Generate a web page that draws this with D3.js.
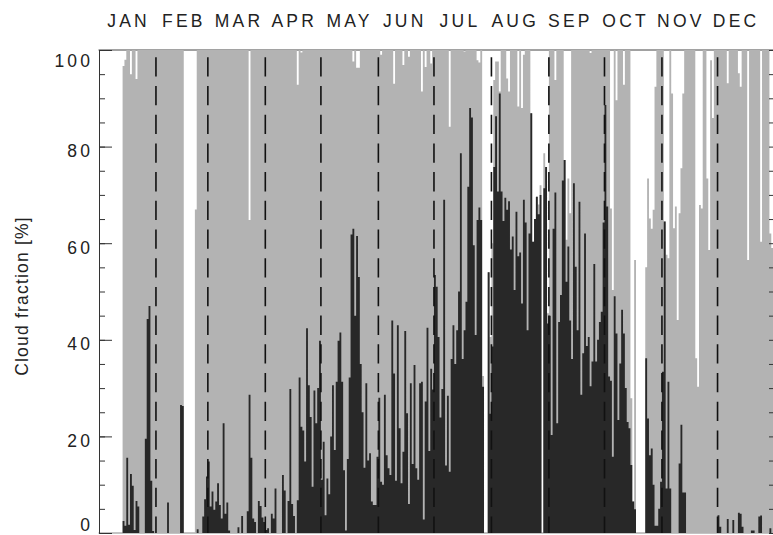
<!DOCTYPE html>
<html>
<head>
<meta charset="utf-8">
<script src="https://cdn.jsdelivr.net/npm/d3@7"></script>
<style>
  html, body { margin: 0; padding: 0; background: #fff; }
  svg { display: block; }
  text { font-family: "Liberation Sans", Arial, Helvetica, sans-serif; fill: #222; }
</style>
</head>
<body>
<svg id="chart" width="773" height="535"></svg>
<script>
// Month names shown along the top, and the month lengths used for the dashed separators
const monthNames = ["JAN", "FEB", "MAR", "APR", "MAY", "JUN", "JUL", "AUG", "SEP", "OCT", "NOV", "DEC"];
const monthDays = [31, 28, 31, 30, 31, 30, 31, 31, 30, 31, 30, 31];
const yTickValues = [0, 20, 40, 60, 80, 100];
const yTickLabels = ["0", "20", "40", "60", "80", "100"];

// Daily total cloud fraction [%] (null = no observation)
const totalCloud = [
  // JAN
  null,null,null,null,null,null,null,null,null,null,null,null,null,96.7,98,100,100,95,100,100,94,100,100,100,100,100,100,100,100,100,100,
  // FEB
  100,100,100,100,100,100,100,100,100,100,100,100,100,100,100,null,null,null,null,null,null,67,100,100,100,100,100,100,
  // MAR
  100,100,100,100,100,100,100,100,100,100,100,100,100,100,100,100,100,100,100,100,100,100,64.8,100,100,100,100,100,100,100,100,
  // APR
  100,100,100,100,100,100,100,100,100,100,100,100,100,100,100,100,100,92.8,100,99.5,100,100,100,100,100,100,100,100,100,100,
  // MAY
  100,100,100,100,100,100,100,100,100,100,100,100,100,100,100,100,100,97.6,100,96.3,96.3,100,100,100,100,100,100,100,100,100,100,
  // JUN
  100,99,100,100,100,100,100,100,93,100,100,100,100,96.9,100,100,98.6,100,100,100,100,100,100,91.4,100,96.5,100,100,97.2,100,
  // JUL
  100,100,100,100,100,100,100,100,84.1,100,100,100,100,100,100,100,99.7,100,100,100,100,100,100,97.9,97.4,100,32.5,null,null,54,40.6,
  // AUG
  60,93.8,97.6,97.6,91.4,100,100,100,94.1,91.4,100,100,100,100,88.3,100,88,99,100,100,100,86.9,60.3,65,69.6,68,72,null,78.6,75.8,45.5,
  // SEP
  100,100,100,93.8,100,100,100,100,77.2,60.7,73.4,66.2,100,100,100,100,100,100,100,100,100,100,99.4,100,100,100,100,100,100,100,
  // OCT
  100,100,100,67.2,50.3,100,89.6,100,100,100,92.8,100,100,100,27.9,6.5,56.5,null,null,null,null,null,55,73.4,65.1,63,66.9,92.4,100,100,100,
  // NOV
  100,64.5,57.6,56.9,100,91,63.1,67.6,44.1,66.2,75.5,91,100,100,100,100,100,100,36.2,30.3,67.9,67.2,100,100,73.4,58.6,97.9,85.9,100,100,
  // DEC
  100,100,100,100,100,93.1,100,100,100,100,100,95.2,92.4,100,100,100,56.5,100,100,100,100,100,100,60.3,100,100,100,100,62,59,59
];

// Daily optically thick cloud fraction [%] (null = no observation)
const thickCloud = [
  // JAN
  null,null,null,null,null,null,null,null,null,null,null,null,null,2.5,1.5,15.6,1.7,12.2,9.8,0.6,6.6,5.5,0,0,0,19.5,44.3,47,10.8,0.4,0,
  // FEB
  0,0,0,0,0,0,6.3,0,0,0,0,0,0,26.5,26.3,null,null,null,null,null,null,0,0.8,0,0,3.4,7,11.7,
  // MAR
  14.8,5.5,8.6,4.8,6.5,10.3,5.8,3,22.7,4,6.3,0.5,0,0,0,0,1.2,0,3.5,0,0,4.5,28.6,15.6,3,2.3,0,6.6,5.6,3.2,2.3,
  // APR
  0.6,1,0,4,3,9.2,0,0,0,12,8.8,0,6.6,29.8,6,3.5,0,6.8,32.2,22,21.2,14.8,42.4,30.6,24,9.6,29.5,22.7,30,39.8,
  // MAY
  11,18.9,3.7,11.3,8,20,30.6,17.2,31.3,39.8,41.5,31.3,13,0.5,15.3,32.2,61.8,63,45,61.5,53,35,25,13.5,31,15,16.5,6.5,5.8,5.8,15.8,
  // JUN
  28,10.6,10,28.6,16.1,13.4,12,44,33,10.8,43,21.7,10.3,16.8,41.8,24.8,6,31,14.3,34.8,13.4,11,31,31.3,2.8,27.2,42.5,17,34,29.7,
  // JUL
  53.4,51,40.6,23.9,29.8,69,14,28.4,12.7,36,43,35,42,50,78.6,36,42,47.9,71.7,88,86,59.6,41,64.8,67.4,64.8,30.3,null,null,54,24.7,
  // AUG
  38.6,75.8,86.3,70.7,91,70.7,64.6,69.4,66.9,68.7,58.7,61.4,50.3,66.5,57.3,58.1,47.5,69,64.3,42,62,86.9,60.3,65,69.6,66,70,null,71.4,75.8,43.4,
  // SEP
  45,20.3,63,70.5,22.7,43.7,49.3,73,77.2,52,59.3,44,36,72.4,55.1,42,68.6,28.6,37.2,62,38.7,40.6,30.4,35.5,55.7,35.5,40,43.7,45.8,64.3,
  // OCT
  88.6,67.6,32.4,31.5,15.8,49,41.3,23.4,35.1,46.2,41.3,30,23,21.7,14.1,6.5,4.9,null,null,null,null,null,36.2,23.7,16.1,17.5,10,1.5,1.5,5,10.6,
  // NOV
  33.4,64.5,9.2,31.3,9.2,0,0,0,0,14.4,22.4,8.4,8.4,0,0,0,0,0,0,0,0,0,0,0,0,0,0,0,0,0,
  // DEC
  3.7,1.3,0,0,0,2.9,0,0,2.7,0,0,4.2,4,1.3,0,0,0,0,0.5,0.5,0,0,3.4,3.6,0,0,0,0,1,0,0
];

const svg = d3.select("#chart");

const nDays = d3.sum(monthDays);
const x = d3.scaleLinear().domain([0, nDays]).range([98.5, 775]);
const y = d3.scaleLinear().domain([0, 100]).range([533, 50]);

// Plot frame (drawn first so the bars sit on top of it)
const frame = svg.append("g").attr("fill", "none").attr("stroke-width", 1);
frame.append("line").attr("x1", x(0)).attr("x2", x(nDays)).attr("y1", y(100)).attr("y2", y(100)).attr("stroke", "#444");
frame.append("line").attr("x1", x(0)).attr("x2", x(nDays)).attr("y1", y(0)).attr("y2", y(0)).attr("stroke", "#888");

// Each day is a flat step from day i to day i+1; runs of days form one seamless shape
function stepPoints(values) {
  const pts = [];
  values.forEach((v, i) => {
    pts.push({ t: i, v: v });
    pts.push({ t: i + 1, v: v });
  });
  return pts;
}
const barArea = d3.area()
  .defined(d => d.v != null)
  .x(d => x(d.t))
  .y0(y(0))
  .y1(d => y(d.v));

svg.append("path")
  .datum(stepPoints(totalCloud))
  .attr("d", barArea)
  .attr("fill", "#b3b3b3");

svg.append("path")
  .datum(stepPoints(thickCloud))
  .attr("d", barArea)
  .attr("fill", "#282828");

// Dashed month separators
const monthStarts = d3.cumsum(monthDays).slice(0, 11);
svg.append("g")
  .selectAll("line")
  .data(monthStarts)
  .join("line")
  .attr("x1", d => x(d)).attr("x2", d => x(d))
  .attr("y1", y(100)).attr("y2", y(0))
  .attr("stroke", "#111")
  .attr("stroke-width", 1.6)
  .attr("stroke-dasharray", "19.3,9.4")
  .attr("stroke-dashoffset", 21.4);

// Left axis with inward ticks
const leftX = 99;
const majorAxis = d3.axisRight(y).tickValues(yTickValues).tickSize(13).tickSizeOuter(0).tickFormat("");
const minorAxis = d3.axisRight(y).tickValues(d3.range(0, 101, 5)).tickSize(6).tickSizeOuter(0).tickFormat("");
const gMinor = svg.append("g").attr("transform", `translate(${leftX},0)`).call(minorAxis);
gMinor.select(".domain").remove();
const gMajor = svg.append("g").attr("transform", `translate(${leftX},0)`).call(majorAxis);
svg.selectAll(".tick line").attr("stroke", "#333");
gMajor.select(".domain").attr("stroke", "#333");

// Right axis ticks (axis line sits just past the window edge)
const rightAxis = d3.axisLeft(y).tickValues(d3.range(0, 101, 5)).tickSize(6).tickSizeOuter(0).tickFormat("");
const gRight = svg.append("g").attr("transform", `translate(${x(nDays)},0)`).call(rightAxis);
gRight.selectAll("line").attr("stroke", "#333");
gRight.select(".domain").attr("stroke", "#333");

// Y tick labels (end labels nudged inside the frame height)
const labelShift = { 0: -2.5, 100: 16.7 };
const ls = 3.2;
const fs = 17.5;
svg.append("g")
  .selectAll("text")
  .data(yTickValues)
  .join("text")
  .attr("x", 90 + ls)
  .attr("y", d => y(d) + (labelShift[d] !== undefined ? labelShift[d] : 10.3))
  .attr("text-anchor", "end")
  .attr("font-size", fs)
  .attr("letter-spacing", ls)
  .text((d, i) => yTickLabels[i]);

// Y axis title
svg.append("text")
  .attr("transform", "translate(28,296) rotate(-90)")
  .attr("text-anchor", "middle")
  .attr("font-size", fs)
  .attr("letter-spacing", 1.2)
  .text("Cloud fraction [%]");

// Month names across the top
const labelStep = (734.5 - 127) / 11;
svg.append("g")
  .selectAll("text")
  .data(monthNames)
  .join("text")
  .attr("x", (d, i) => 127 + labelStep * i + ls / 2)
  .attr("y", 27)
  .attr("text-anchor", "middle")
  .attr("font-size", fs)
  .attr("letter-spacing", ls)
  .text(d => d);
</script>
</body>
</html>
